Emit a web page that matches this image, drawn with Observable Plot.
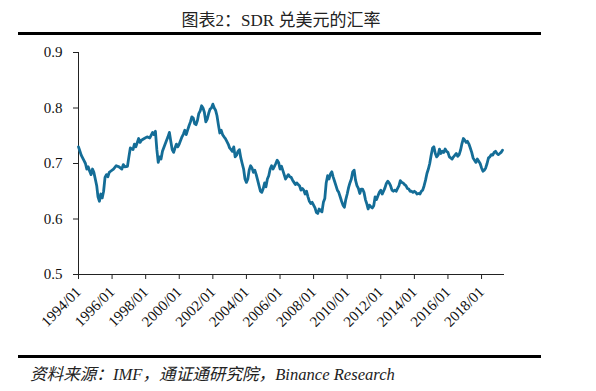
<!DOCTYPE html>
<html>
<head>
<meta charset="utf-8">
<script src="https://cdn.jsdelivr.net/npm/d3@7"></script>
<script src="https://cdn.jsdelivr.net/npm/@observablehq/plot@0.6"></script>
<style>
  html, body { margin: 0; padding: 0; background: #fff; }
  #page { position: relative; width: 596px; height: 391px; overflow: hidden; background: #fff; }
  #title { position: absolute; left: 0; width: 562px; top: 10px; text-align: center;
    font-family: "Liberation Serif", "Noto Sans CJK SC", serif; font-size: 17px; color: #222; line-height: 22px; }
  .rule { position: absolute; left: 18px; width: 523px; height: 3px; background: #000; }
  #source { position: absolute; left: 30px; top: 365px; font-family: "Liberation Serif", "Noto Sans CJK SC", serif;
    font-style: italic; font-size: 16.6px; color: #222; line-height: 20px; white-space: nowrap; }
  #chart { position: absolute; left: 0; top: 0; }
</style>
</head>
<body>
<div id="page">
  <div id="chart"></div>
  <div id="title">图表2：SDR 兑美元的汇率</div>
  <div class="rule" style="top:32px"></div>
  <div class="rule" style="top:355px"></div>
  <div id="source">资料来源：IMF，通证通研究院，Binance Research</div>
</div>
<script>
// SDR per USD, monthly readings
const months = [
"1994-01","1994-02","1994-03","1994-05","1994-06","1994-07","1994-08","1994-09","1994-10","1994-11","1994-12",
"1995-01","1995-02","1995-03","1995-04","1995-05","1995-06","1995-07","1995-08","1995-09","1995-10","1995-11","1995-12",
"1996-02","1996-04","1996-06","1996-08","1996-09","1996-10","1996-12",
"1997-01","1997-02","1997-04","1997-05","1997-06","1997-08","1997-09","1997-10","1997-12",
"1998-02","1998-04","1998-06","1998-07","1998-08","1998-09","1998-10","1998-11","1998-12",
"1999-01","1999-03","1999-04","1999-05","1999-06","1999-07","1999-08","1999-09","1999-10","1999-11","1999-12",
"2000-01","2000-03","2000-04","2000-05","2000-06","2000-07","2000-08","2000-09","2000-10","2000-11","2000-12",
"2001-01","2001-02","2001-03","2001-04","2001-05","2001-06","2001-07","2001-08","2001-09","2001-10","2001-11","2001-12",
"2002-01","2002-02","2002-03","2002-04","2002-05","2002-06","2002-07","2002-08","2002-09","2002-10","2002-11","2002-12",
"2003-01","2003-02","2003-03","2003-04","2003-05","2003-06","2003-07","2003-08","2003-09","2003-10","2003-11","2003-12",
"2004-01","2004-02","2004-03","2004-04","2004-05","2004-06","2004-07","2004-08","2004-09","2004-10","2004-11","2004-12",
"2005-01","2005-02","2005-03","2005-04","2005-05","2005-06","2005-07","2005-08","2005-09","2005-10","2005-11","2005-12",
"2006-01","2006-02","2006-03","2006-04","2006-05","2006-06","2006-07","2006-08","2006-09","2006-10","2006-11","2006-12",
"2007-01","2007-02","2007-03","2007-04","2007-05","2007-06","2007-07","2007-08","2007-09","2007-10","2007-11","2007-12",
"2008-01","2008-02","2008-03","2008-04","2008-05","2008-06","2008-07","2008-08","2008-09","2008-10","2008-11","2008-12",
"2009-01","2009-02","2009-03","2009-04","2009-05","2009-06","2009-07","2009-08","2009-09","2009-10","2009-11","2009-12",
"2010-01","2010-02","2010-03","2010-04","2010-05","2010-06","2010-07","2010-08","2010-09","2010-10","2010-11","2010-12",
"2011-01","2011-02","2011-03","2011-04","2011-05","2011-06","2011-07","2011-08","2011-09","2011-10","2011-11","2011-12",
"2012-01","2012-02","2012-03","2012-04","2012-05","2012-06","2012-07","2012-08","2012-09","2012-10","2012-11","2012-12",
"2013-01","2013-02","2013-03","2013-04","2013-05","2013-06","2013-07","2013-08","2013-09","2013-10","2013-11","2013-12",
"2014-01","2014-02","2014-03","2014-04","2014-05","2014-06","2014-07","2014-08","2014-09","2014-10","2014-11","2014-12",
"2015-01","2015-02","2015-03","2015-04","2015-05","2015-06","2015-07","2015-08","2015-09","2015-10","2015-11","2015-12",
"2016-01","2016-02","2016-03","2016-04","2016-05","2016-06","2016-07","2016-08","2016-09","2016-10","2016-11","2016-12",
"2017-01","2017-02","2017-03","2017-04","2017-05","2017-06","2017-07","2017-08","2017-09","2017-10","2017-11","2017-12",
"2018-01","2018-02","2018-03","2018-04","2018-05","2018-06","2018-07","2018-08","2018-09","2018-10","2018-11","2018-12",
"2019-01","2019-02","2019-03","2019-04"
];
const sdrPerUsd = [
0.730,0.722,0.715,0.705,0.700,0.690,0.694,0.686,0.680,0.690,0.684,
0.672,0.660,0.640,0.632,0.645,0.638,0.650,0.675,0.680,0.676,0.684,0.686,
0.690,0.696,0.694,0.690,0.698,0.694,0.695,
0.712,0.728,0.725,0.735,0.730,0.745,0.738,0.742,0.745,
0.748,0.746,0.756,0.752,0.758,0.725,0.702,0.712,0.708,
0.722,0.735,0.742,0.748,0.756,0.740,0.725,0.720,0.728,0.735,0.730,
0.735,0.748,0.753,0.760,0.752,0.760,0.768,0.775,0.784,0.782,0.772,
0.770,0.778,0.790,0.795,0.804,0.800,0.792,0.775,0.780,0.790,0.798,0.800,
0.807,0.800,0.796,0.786,0.770,0.755,0.760,0.752,0.748,0.745,0.740,0.735,
0.728,0.725,0.722,0.730,0.712,0.715,0.722,0.725,0.710,0.700,0.690,0.672,
0.666,0.672,0.688,0.696,0.692,0.684,0.688,0.680,0.670,0.660,0.650,0.648,
0.655,0.665,0.658,0.672,0.678,0.690,0.696,0.690,0.695,0.700,0.706,0.702,
0.690,0.695,0.688,0.680,0.672,0.676,0.680,0.676,0.675,0.670,0.666,0.662,
0.665,0.662,0.660,0.652,0.655,0.652,0.645,0.650,0.640,0.632,0.628,0.630,
0.625,0.620,0.612,0.610,0.618,0.615,0.613,0.630,0.637,0.665,0.678,0.672,
0.681,0.685,0.676,0.668,0.660,0.652,0.648,0.640,0.632,0.625,0.621,0.635,
0.645,0.657,0.665,0.672,0.685,0.688,0.670,0.660,0.655,0.646,0.654,0.654,
0.648,0.635,0.628,0.618,0.625,0.622,0.620,0.624,0.640,0.635,0.642,0.648,
0.652,0.645,0.650,0.656,0.664,0.668,0.665,0.660,0.652,0.650,0.652,0.650,
0.655,0.660,0.669,0.666,0.665,0.662,0.660,0.655,0.654,0.650,0.650,0.648,
0.650,0.648,0.645,0.646,0.645,0.650,0.652,0.660,0.670,0.682,0.690,0.700,
0.715,0.728,0.730,0.718,0.712,0.715,0.726,0.718,0.722,0.720,0.726,0.722,
0.720,0.712,0.710,0.708,0.712,0.715,0.718,0.713,0.716,0.724,0.736,0.745,
0.742,0.738,0.740,0.735,0.728,0.720,0.710,0.706,0.702,0.708,0.704,0.700,
0.692,0.686,0.688,0.692,0.700,0.710,0.712,0.716,0.715,0.720,0.722,0.718,
0.716,0.718,0.720,0.724
];
const yTicks = [0.5, 0.6, 0.7, 0.8, 0.9];
const xTickLabels = ["1994/01","1996/01","1998/01","2000/01","2002/01","2004/01","2006/01","2008/01","2010/01","2012/01","2014/01","2016/01","2018/01"];

const toDate = s => new Date(s.replace("/", "-") + "-01T00:00:00Z");
const data = months.map((m, i) => ({date: toDate(m), value: sdrPerUsd[i]}));
const xTicks = xTickLabels.map(toDate);
const labelOf = d => xTickLabels[xTicks.findIndex(t => +t === +d)];

const chart = Plot.plot({
  width: 596,
  height: 340,
  marginLeft: 78,
  marginRight: 92,
  marginTop: 52,
  marginBottom: 66,
  style: {fontFamily: "'Liberation Serif', 'Times New Roman', serif", fontSize: "15px", color: "#111", background: "transparent"},
  x: {type: "utc", domain: [toDate("1994-01"), new Date("2019-05-15T00:00:00Z")], label: null},
  y: {domain: [0.5, 0.9], label: null},
  marks: [
    Plot.axisY({ticks: yTicks, tickFormat: d => d.toFixed(1), tickSize: 5, tickPadding: 11, fontSize: 15, stroke: "#222", label: null}),
    Plot.ruleX([toDate("1994-01")], {stroke: "#222", strokeWidth: 1}),
    Plot.axisX({ticks: xTicks, tickFormat: labelOf, tickRotate: -45, tickSize: 5, tickPadding: 10, fontSize: 15, stroke: "#222", label: null}),
    Plot.ruleY([0.5], {stroke: "#222", strokeWidth: 1}),
    Plot.line(data, {x: "date", y: "value", stroke: "#146d97", strokeWidth: 2.8, strokeLinejoin: "round"})
  ]
});
document.getElementById("chart").appendChild(chart);
</script>
</body>
</html>
